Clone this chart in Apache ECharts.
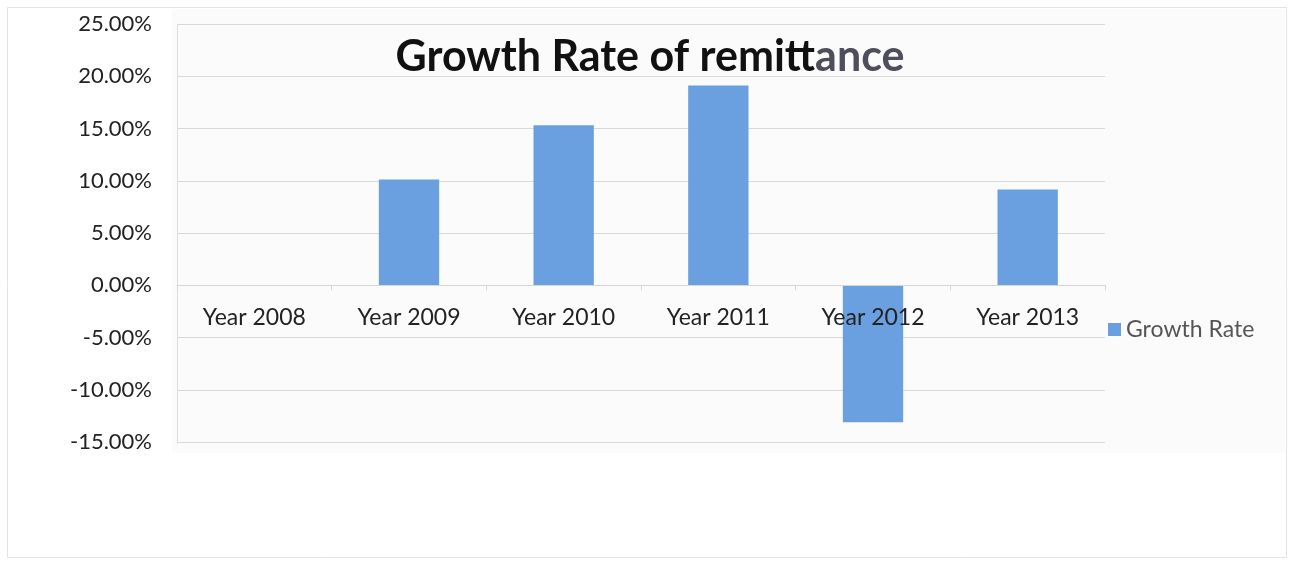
<!DOCTYPE html>
<html>
<head>
<meta charset="utf-8">
<script src="https://cdn.jsdelivr.net/npm/echarts@6/dist/echarts.min.js"></script>
<style>
  html, body { margin: 0; padding: 0; background: #ffffff; }
  #chart { width: 1291px; height: 562px; }
</style>
</head>
<body>
<div id="chart"></div>
<script>
// Annual growth rate of remittance inflows (percent)
const categories = ['Year 2008', 'Year 2009', 'Year 2010', 'Year 2011', 'Year 2012', 'Year 2013'];
const growthRate = [0, 10.11, 15.31, 19.11, -13.11, 9.16];
const seriesName = 'Growth Rate';
const titleMain = 'Growth Rate of remitt';
const titleTail = 'ance';
const yMin = -15, yMax = 25, yStep = 5;

const FONT = 'Lato, "Open Sans", sans-serif';
const GRID = { left: 177, right: 186, top: 24, bottom: 120 };
const plotHeight = 562 - GRID.top - GRID.bottom;
// shift the category axis up so it sits on the zero line
const zeroOffset = -plotHeight * (0 - yMin) / (yMax - yMin);

const chart = echarts.init(document.getElementById('chart'), null, { renderer: 'canvas' });

const titleFont = { fontFamily: FONT, fontWeight: 'bold', fontSize: 43 };

chart.setOption({
  backgroundColor: '#ffffff',
  animation: false,
  graphic: [
    { type: 'rect', z: -10, silent: true,
      shape: { x: 7.5, y: 7.5, width: 1279, height: 550 },
      style: { fill: '#ffffff', stroke: '#e3e3e3', lineWidth: 1 } },
    { type: 'rect', z: -9, silent: true,
      shape: { x: 172, y: 9, width: 1113, height: 444 },
      style: { fill: '#fbfbfb' } }
  ],
  title: {
    text: '{a|' + titleMain + '}{b|' + titleTail + '}',
    left: 645, top: 31, textAlign: 'center',
    textStyle: {
      ...titleFont,
      rich: {
        a: { ...titleFont, color: '#111111' },
        b: { ...titleFont, color: '#4e4e5c' }
      }
    }
  },
  legend: {
    data: [seriesName],
    orient: 'vertical',
    left: 1103, top: 313,
    itemWidth: 13, itemHeight: 13, itemGap: 8,
    icon: 'rect',
    textStyle: { fontFamily: FONT, fontSize: 23, color: '#555555' }
  },
  grid: Object.assign({ containLabel: false }, GRID),
  xAxis: {
    type: 'category',
    data: categories,
    position: 'bottom',
    offset: zeroOffset,
    z: 10,
    axisLine: { onZero: false, lineStyle: { color: '#d6d6d6', width: 1 } },
    axisTick: { show: true, alignWithLabel: false, length: 5, lineStyle: { color: '#d6d6d6' } },
    axisLabel: { fontFamily: FONT, fontSize: 23, color: '#222222', margin: 21 },
    splitLine: { show: false }
  },
  yAxis: {
    type: 'value',
    min: yMin, max: yMax, interval: yStep,
    axisLine: { show: true, lineStyle: { color: '#dedede' } },
    axisTick: { show: false },
    axisLabel: {
      fontFamily: FONT, fontSize: 22, color: '#222222', margin: 25,
      formatter: v => v.toFixed(2) + '%'
    },
    splitLine: { show: true, lineStyle: { color: '#d9d9d9', width: 1 } }
  },
  series: [{
    name: seriesName,
    type: 'bar',
    z: 2,
    data: growthRate,
    barWidth: '39%',
    itemStyle: { color: '#6a9fe0' }
  }]
});
</script>
</body>
</html>
